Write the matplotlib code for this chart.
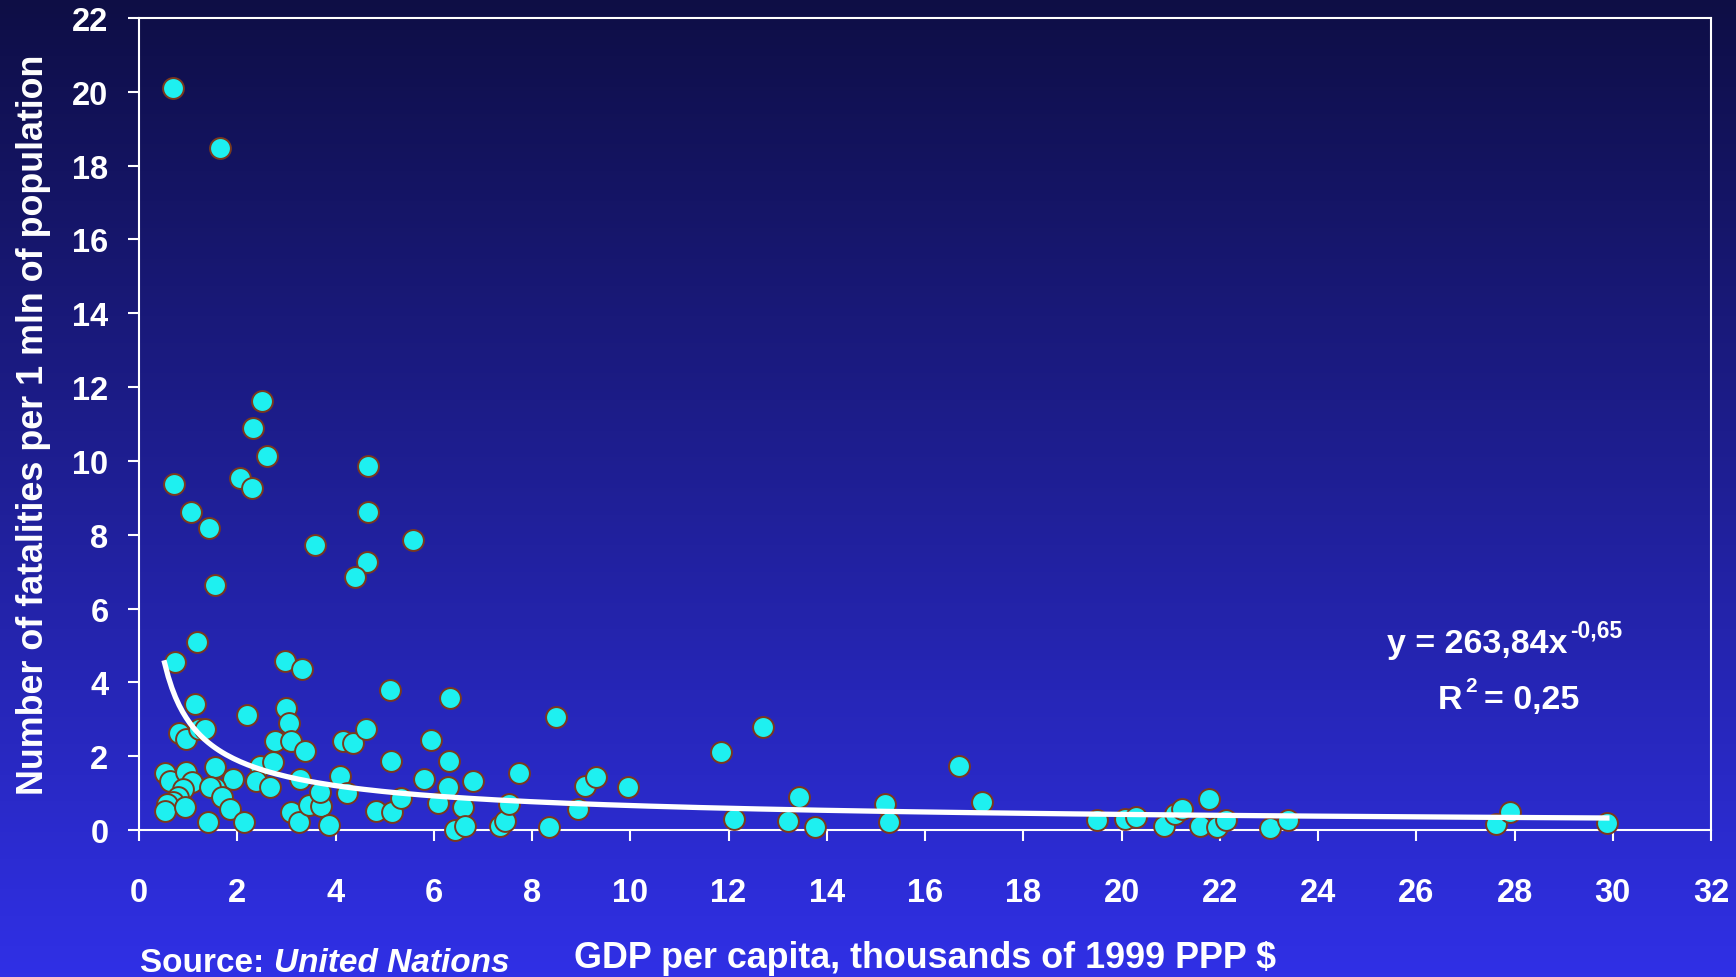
import numpy as np
import matplotlib.pyplot as plt

plt.rcParams['font.family'] = ['Liberation Sans', 'DejaVu Sans']
plt.rcParams['font.weight'] = 'bold'

# ============ Data ============
# GDP per capita, thousands of 1999 PPP $
gdp = [
    0.70, 1.65, 2.51, 2.32, 2.60, 2.05, 2.29, 0.72, 1.05, 1.42, 1.54,
    4.67, 4.67, 5.58, 3.59, 4.64, 4.40,
    1.18, 0.73, 2.97, 3.32, 5.10, 6.32, 8.49, 1.14, 2.19, 3.00, 3.05,
    0.82, 0.96, 1.22, 1.34, 2.76, 3.10, 3.37, 4.15, 4.36, 4.63, 5.95,
    6.31, 5.12, 7.73, 9.07, 9.30,
    0.53, 0.63, 0.96, 1.07, 0.90, 0.80, 0.70, 0.56, 0.52, 0.93,
    1.55, 1.92, 1.55, 1.44, 1.68, 1.85, 1.41, 2.13,
    2.46, 2.73, 2.39, 2.66, 3.27, 3.10, 3.26, 3.46, 3.71, 3.68, 3.87,
    4.09, 4.23, 4.83, 5.14, 5.34, 6.09, 5.81, 6.29, 6.80, 6.59, 6.44,
    6.63, 7.34, 7.44, 7.54, 8.35, 8.93,
    9.96, 11.85, 12.70, 12.12, 13.44, 13.21, 13.75, 15.19, 15.26, 16.70, 17.16,
    19.50, 20.08, 20.30, 20.86, 21.08, 21.24, 21.79, 21.60, 21.94, 22.13,
    23.03, 23.39, 27.63, 27.90, 29.88,
]
# fatalities per 1 mln of population
fatalities = [
    20.10, 18.48, 11.63, 10.89, 10.14, 9.54, 9.26, 9.38, 8.61, 8.18, 6.64,
    9.85, 8.61, 7.86, 7.73, 7.25, 6.86,
    5.09, 4.54, 4.59, 4.35, 3.80, 3.57, 3.05, 3.41, 3.12, 3.31, 2.90,
    2.63, 2.47, 2.74, 2.74, 2.42, 2.42, 2.15, 2.42, 2.36, 2.74, 2.45,
    1.88, 1.88, 1.54, 1.18, 1.43,
    1.54, 1.34, 1.56, 1.29, 1.11, 0.89, 0.75, 0.70, 0.52, 0.61,
    1.70, 1.38, 1.13, 1.16, 0.89, 0.57, 0.23, 0.23,
    1.74, 1.83, 1.34, 1.16, 1.38, 0.48, 0.23, 0.68, 0.66, 1.04, 0.14,
    1.47, 1.00, 0.52, 0.50, 0.86, 0.73, 1.38, 1.16, 1.34, 0.61, 0.01,
    0.12, 0.12, 0.25, 0.70, 0.07, 0.57,
    1.16, 2.12, 2.80, 0.30, 0.90, 0.25, 0.07, 0.70, 0.21, 1.74, 0.77,
    0.28, 0.30, 0.34, 0.12, 0.43, 0.57, 0.84, 0.12, 0.07, 0.28,
    0.05, 0.28, 0.16, 0.48, 0.19,
]

# power trend fitted on GDP in dollars
FIT_A = 263.84
FIT_B = -0.65
FIT_R2 = 0.25

x_ticks = list(range(0, 33, 2))
y_ticks = list(range(0, 23, 2))

# ============ Figure ============
fig = plt.figure(figsize=(17.36, 9.78), dpi=100)

# vertical background gradient, dark navy to bright blue
bg = fig.add_axes([0, 0, 1, 1], zorder=-10)
top = np.array([14, 14, 69]) / 255
bottom = np.array([48, 48, 230]) / 255
t = np.linspace(0, 1, 256)[:, None, None]
bg.imshow(top + (bottom - top) * t, aspect='auto', extent=[0, 1, 0, 1])
bg.axis('off')

ax = fig.add_axes([0.0801, 0.1503, 0.9055, 0.8303])
ax.patch.set_alpha(0)

ax.scatter(gdp, fatalities, s=225, c='#1ef0f0', edgecolors='#7a3a1c',
           linewidths=1.4, zorder=3, clip_on=False)

xs = np.linspace(min(gdp), max(gdp), 400)
ax.plot(xs, FIT_A * (xs * 1000) ** FIT_B, color='white', lw=3.8, zorder=4)

ax.set_xlim(0, 32)
ax.set_ylim(0, 22)
ax.set_xticks(x_ticks)
ax.set_yticks(y_ticks)
for s in ax.spines.values():
    s.set_color('white')
    s.set_linewidth(1.5)
ax.tick_params(colors='white', direction='out', length=8, width=1.5, labelsize=23.5)
ax.tick_params(axis='x', pad=26)
ax.tick_params(axis='y', pad=14)

fig.text(43 / 1736, 1 - 425 / 978, 'Number of fatalities per 1 mln of population',
         rotation=90, rotation_mode='anchor', ha='center', va='baseline',
         fontsize=25.8, color='white')
fig.text(925 / 1736, 1 - 968 / 978, 'GDP per capita, thousands of 1999 PPP $',
         ha='center', va='baseline', fontsize=25.8, color='white')

src = fig.text(140 / 1736, 1 - 972 / 978, 'Source: ', ha='left', va='baseline',
               fontsize=24, color='white')
ax.annotate('United Nations', xy=(1, 0), xycoords=src, va='bottom', ha='left',
            fontsize=24, color='white', style='italic', annotation_clip=False)

# trend equation
eq = fig.text(1387 / 1736, 1 - 653 / 978, 'y = ' + f'{FIT_A:.2f}'.replace('.', ',') + 'x',
              ha='left', va='baseline', fontsize=24.5, color='white')
ax.annotate(f'{FIT_B:.2f}'.replace('.', ','), xy=(1, 1), xycoords=eq,
            xytext=(2, 7), textcoords='offset points', va='top', ha='left',
            fontsize=16.5, color='white', annotation_clip=False)

r = fig.text(1438 / 1736, 1 - 709 / 978, 'R', ha='left', va='baseline',
             fontsize=24.5, color='white')
sup = ax.annotate('2', xy=(1, 1), xycoords=r, xytext=(2, 6),
                  textcoords='offset points', va='top', ha='left',
                  fontsize=15, color='white', annotation_clip=False)
ax.annotate('= ' + f'{FIT_R2:.2f}'.replace('.', ','), xy=(1, 0), xycoords=(sup, r),
            xytext=(5, 0), textcoords='offset points', va='bottom', ha='left',
            fontsize=24.5, color='white', annotation_clip=False)

fig.savefig('out.png', dpi=100)
